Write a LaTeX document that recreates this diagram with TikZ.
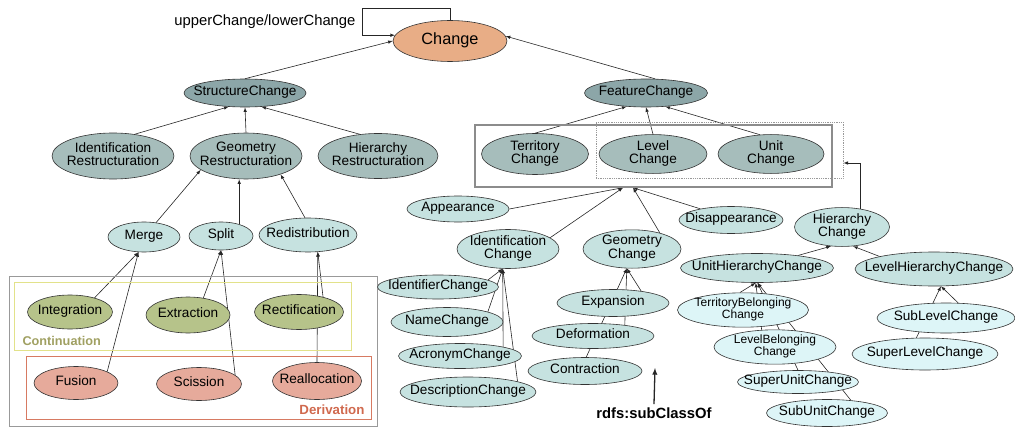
\documentclass[tikz,border=0pt]{standalone}
\usepackage{fontspec}
\setmainfont{Liberation Sans}
\usepackage{tikz}
\usetikzlibrary{shapes.geometric}
\tikzset{>=latex}
\definecolor{chgcol}{HTML}{E8AD86}
\definecolor{darkcol}{HTML}{8CA6A8}
\definecolor{midcol}{HTML}{A6BDBB}
\definecolor{lightcol}{HTML}{C6E2E0}
\definecolor{palecol}{HTML}{DDF5F7}
\definecolor{olivecol}{HTML}{B6C38A}
\definecolor{salmoncol}{HTML}{E6AA9B}
\definecolor{contcol}{HTML}{E2E28A}
\definecolor{conttext}{HTML}{A0A062}
\definecolor{derivcol}{HTML}{D77A62}
\definecolor{derivtext}{HTML}{D0694E}

\pgfdeclarelayer{bg}
\pgfsetlayers{bg,main}

\newcommand{\ovl}[1]{\makebox[0pt]{\begin{tabular}{@{}c@{}}#1\end{tabular}}}

\tikzset{
  cls/.style n args={3}{ellipse, draw=black!80, line width=0.6pt, fill=#1, minimum width=#2, minimum height=#3, inner sep=0pt, font=\fontsize{13.6}{13}\selectfont},
  smalltext/.style={font=\fontsize{12}{11.5}\selectfont},
  isa/.style={->, line width=0.6pt, black!85},
}

\begin{document}
\begin{tikzpicture}[x=1pt, y=-1pt]
    \useasboundingbox (0,0) rectangle (1015,428);
    \begin{scope}

        \node[cls={chgcol}{114pt}{41pt}, font=\fontsize{16.3}{16}\selectfont] (change) at (450,41) {\ovl{Change}};
        \node[anchor=east, font=\fontsize{14.8}{15}\selectfont] (loopname) at (359,22) {upperChange/lowerChange};

        \node[cls={darkcol}{122pt}{28pt}] (struct) at (245,93) {\ovl{StructureChange}};
        \node[cls={darkcol}{123pt}{28pt}] (feat) at (646,93) {\ovl{FeatureChange}};

        \node[cls={midcol}{122pt}{46pt}] (identR) at (113,156) {\ovl{Identification\\Restructuration}};
        \node[cls={midcol}{112pt}{46pt}] (geoR) at (246,156) {\ovl{Geometry\\Restructuration}};
        \node[cls={midcol}{120pt}{45pt}] (hierR) at (378,156) {\ovl{Hierarchy\\Restructuration}};

        \node[draw=black!45, line width=1.4pt, minimum width=357pt, minimum height=62pt, inner sep=0pt] (grp) at (653.5,156) {};
        \node[draw=black!40, densely dotted, line width=0.8pt, minimum width=247pt, minimum height=56pt, inner sep=0pt] (lvlunit) at (719.5,150) {};
        \node[cls={midcol}{107pt}{41pt}] (terr) at (535,154) {\ovl{Territory\\Change}};
        \node[cls={midcol}{108pt}{38pt}] (lev) at (653,154) {\ovl{Level\\Change}};
        \node[cls={midcol}{106pt}{38pt}] (unit) at (771,154) {\ovl{Unit\\Change}};
        \coordinate (in1) at ([xshift=-30.5pt]grp.south);
        \coordinate (in2) at ([xshift=-20.5pt]grp.south);

        \node[cls={lightcol}{72pt}{30pt}] (merge) at (144,237) {\ovl{Merge}};
        \node[cls={lightcol}{64pt}{28pt}] (split) at (221,236) {\ovl{Split}};
        \node[cls={lightcol}{98pt}{34pt}] (redis) at (308,235) {\ovl{Redistribution}};

        \draw[black!40, line width=0.8pt] (9,276) rectangle (377,426.5);
        \draw[contcol, line width=1pt] (14,282) rectangle (351,350);
        \draw[derivcol, line width=1pt] (26,356) rectangle (371,419);
        \node[anchor=west, text=conttext, font=\bfseries\fontsize{12.7}{13}\selectfont] (contlbl) at (19,341) {Continuation};
        \node[anchor=east, text=derivtext, font=\bfseries\fontsize{13.3}{13}\selectfont] (derivlbl) at (368,410) {Derivation};

        \node[cls={olivecol}{85pt}{34pt}] (integ) at (70,312) {\ovl{Integration}};
        \node[cls={olivecol}{84pt}{36pt}] (extr) at (188,315) {\ovl{Extraction}};
        \node[cls={olivecol}{89pt}{35pt}] (rect) at (299,312) {\ovl{Rectification}};
        \node[cls={salmoncol}{84pt}{33pt}] (fusion) at (76,383) {\ovl{Fusion}};
        \node[cls={salmoncol}{85pt}{33pt}] (sciss) at (199,384) {\ovl{Scission}};
        \node[cls={salmoncol}{89pt}{37pt}] (realloc) at (317,381) {\ovl{Reallocation}};

        \node[cls={lightcol}{102pt}{26pt}] (appear) at (458,209) {\ovl{Appearance}};
        \node[cls={lightcol}{102pt}{39pt}] (identC) at (508,249) {\ovl{Identification\\Change}};
        \node[cls={lightcol}{98pt}{36pt}] (geoC) at (632,249) {\ovl{Geometry\\Change}};
        \node[cls={lightcol}{104pt}{27pt}] (disapp) at (731,220) {\ovl{Disappearance}};
        \node[cls={lightcol}{95pt}{30pt}] (hierC) at (842,227) {\ovl{Hierarchy\\Change}};

        \node[cls={lightcol}{121pt}{24pt}] (identif) at (438,287) {\ovl{IdentifierChange}};
        \node[cls={lightcol}{112pt}{29pt}] (namech) at (447,322) {\ovl{NameChange}};
        \node[cls={lightcol}{123pt}{25pt}] (acro) at (460,356) {\ovl{AcronymChange}};
        \node[cls={lightcol}{136pt}{30pt}] (descr) at (468,392) {\ovl{DescriptionChange}};

        \node[cls={lightcol}{112pt}{27pt}] (expan) at (613,303) {\ovl{Expansion}};
        \node[cls={lightcol}{122pt}{25pt}] (deform) at (593,336) {\ovl{Deformation}};
        \node[cls={lightcol}{114pt}{27pt}] (contr) at (585,371) {\ovl{Contraction}};

        \node[cls={lightcol}{153pt}{29pt}] (unitH) at (757,268) {\ovl{UnitHierarchyChange}};
        \node[cls={lightcol}{158pt}{34pt}] (levH) at (934,269) {\ovl{LevelHierarchyChange}};
        \node[cls={palecol}{131pt}{34pt}, smalltext] (terrB) at (743,310) {\ovl{TerritoryBelonging\\Change}};
        \node[cls={palecol}{122pt}{31pt}, smalltext] (levB) at (775,347) {\ovl{LevelBelonging\\Change}};
        \node[cls={palecol}{121pt}{23pt}] (supU) at (798,382) {\ovl{SuperUnitChange}};
        \node[cls={palecol}{121pt}{27pt}] (subU) at (827,413) {\ovl{SubUnitChange}};
        \node[cls={palecol}{138pt}{30pt}] (subL) at (946,318) {\ovl{SubLevelChange}};
        \node[cls={palecol}{146pt}{32pt}] (supL) at (925,354) {\ovl{SuperLevelChange}};

        \node[font=\bfseries\fontsize{14.8}{15}\selectfont] (legend) at (654,413) {rdfs:subClassOf};
        \coordinate (legtip) at (655,368);

        \begin{pgfonlayer}{bg}
            \draw[isa] (change.north) |- (362,8) |- (change.174);
            \draw[isa] (struct.north) -- (change.west);
            \draw[isa] (feat.57) -- (change.5);
            \draw[isa] (split.33) -- (split.33 |- geoR.south);
            \draw[isa] (hierC.45) |- ([yshift=-13pt]lvlunit.east);
            \foreach \a/\b in {identR.45/struct.220, geoR.north/struct.south, hierR.130/struct.320,
                               terr.north/feat.215, lev.north/feat.south, unit.120/feat.325,
                               merge.50/geoR.197, redis.100/geoR.332,
                               integ.30/merge.250, fusion.20/merge.250, extr.48/split.south, sciss.14/split.south,
                               rect.32/redis.300, realloc.north/redis.300,
                               appear.east/in1, identC.15/in1, geoC.30/in2, disapp.160/in2,
                               identif.8/identC.255, namech.14/identC.255, acro.12/identC.255, descr.12/identC.255,
                               expan.23/geoC.255, deform.19/geoC.255, contr.85/geoC.255,
                               unitH.17/hierC.240, levH.167/hierC.300,
                               terrB.100/unitH.265, levB.128/unitH.265, supU.north/unitH.272, subU.28/unitH.272,
                               subL.51/levH.292, supL.118/levH.292}
            {
                \draw[isa] (\a) -- (\b);
            }
            \draw[isa, line width=1.3pt] (legend.north) -- (legtip);
        \end{pgfonlayer}
    \end{scope}

\end{tikzpicture}
\end{document}
